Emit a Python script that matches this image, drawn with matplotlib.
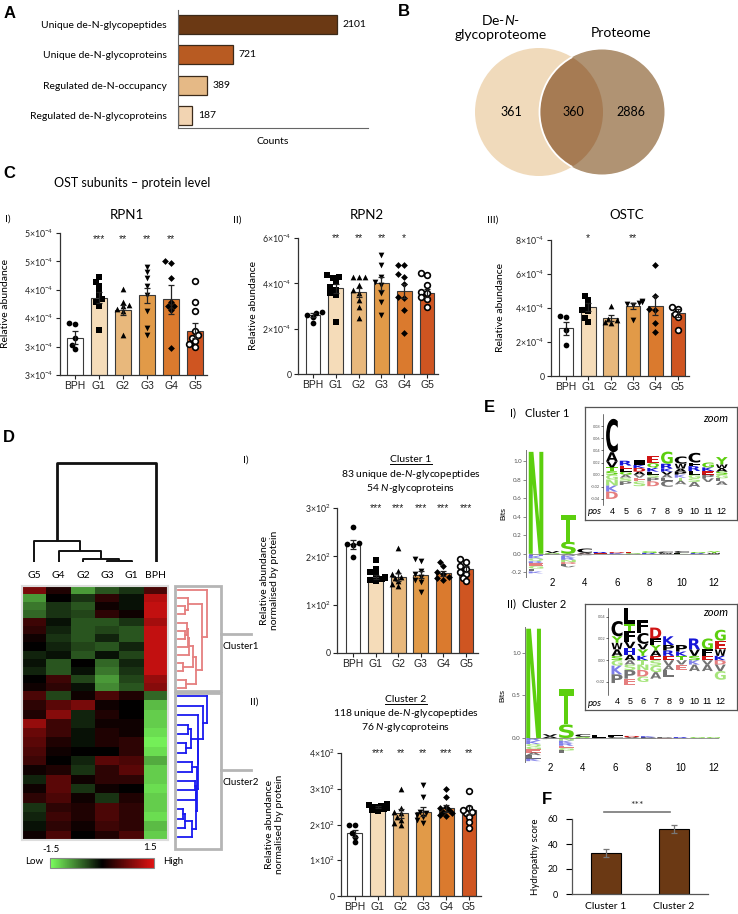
import numpy as np
import matplotlib
matplotlib.use('Agg')
import matplotlib.pyplot as plt
from matplotlib.patches import Circle, Rectangle, PathPatch
from matplotlib.textpath import TextPath
from matplotlib.font_manager import FontProperties
from matplotlib.colors import LinearSegmentedColormap, Normalize
from matplotlib.cm import ScalarMappable
from matplotlib.lines import Line2D
import matplotlib.transforms as mtransforms

plt.rcParams['font.family'] = ['Lato', 'DejaVu Sans']
plt.rcParams['mathtext.fontset'] = 'custom'
plt.rcParams['mathtext.rm'] = 'Lato'
plt.rcParams['mathtext.it'] = 'Lato:italic'
plt.rcParams['mathtext.bf'] = 'Lato:bold'

# ==========================================
# DATA
# ==========================================
# A - counts
count_labels = ['Unique de-N-glycopeptides', 'Unique de-N-glycoproteins',
                'Regulated de-N-occupancy', 'Regulated de-N-glycoproteins']
count_values = [2101, 721, 389, 187]
count_colors = ['#6B3914', '#B85B22', '#E5B986', '#F2D4B2']

# B - venn (only glyco, shared, only proteome)
venn_names = ['De-$\\it{N}$-\nglycoproteome', 'Proteome']
venn_counts = [361, 360, 2886]

# C / D - group bar charts
groups = ['BPH', 'G1', 'G2', 'G3', 'G4', 'G5']
group_colors = ['#FFFFFF', '#F5DCB9', '#E8B87C', '#E19A48', '#DA7A2E', '#CF5521']
group_markers = ['o', 's', '^', 'v', 'D', 'o']

# values x1e-4
rpn1_mean = [3.16, 3.86, 3.65, 3.90, 3.83, 3.28]
rpn1_sem = [0.12, 0.10, 0.09, 0.14, 0.26, 0.13]
rpn1_points = [[3.40, 3.41, 3.16, 2.96, 3.02],
               [4.22, 4.14, 4.07, 3.98, 3.90, 3.84, 3.79, 3.72, 3.29],
               [4.02, 3.79, 3.74, 3.71, 3.67, 3.62, 3.21],
               [4.41, 4.31, 4.21, 4.07, 3.90, 3.62, 3.33, 3.21],
               [4.50, 4.47, 4.21, 3.79, 3.72, 3.71, 3.64, 2.98],
               [4.16, 3.79, 3.62, 3.28, 3.21, 3.16, 3.10, 3.00, 3.05]]
rpn1_stars = ['', '***', '**', '**', '**', '']

rpn2_mean = [2.59, 3.78, 3.60, 4.00, 3.65, 3.56]
rpn2_sem = [0.08, 0.20, 0.20, 0.28, 0.30, 0.18]
rpn2_points = [[2.72, 2.68, 2.59, 2.50, 2.24],
               [4.35, 4.26, 4.22, 4.04, 3.82, 3.69, 3.56, 3.47, 2.29],
               [4.26, 4.26, 4.26, 3.91, 3.69, 3.56, 3.25, 2.95, 2.46],
               [5.23, 4.79, 4.26, 4.04, 3.91, 3.56, 3.16, 2.59],
               [4.83, 4.83, 4.40, 4.26, 3.96, 3.38, 3.34, 2.81, 1.80],
               [4.44, 4.35, 3.91, 3.60, 3.56, 3.38, 3.30, 2.95]]
rpn2_stars = ['', '**', '**', '**', '*', '']

ostc_mean = [2.82, 4.06, 3.41, 4.12, 4.14, 3.70]
ostc_sem = [0.38, 0.22, 0.15, 0.18, 0.55, 0.25]
ostc_points = [[3.47, 3.51, 2.69, 1.82],
               [4.70, 4.45, 4.12, 3.86, 3.82, 3.43, 3.18],
               [4.12, 3.37, 3.27, 3.18, 3.12],
               [4.39, 4.35, 4.31, 4.22, 4.16, 3.27],
               [6.51, 4.70, 3.96, 3.86, 3.12, 2.59],
               [4.06, 3.96, 3.67, 3.47, 2.69]]
ostc_stars = ['', '*', '', '**', '', '']

clu1_mean = [225, 158, 158, 162, 165, 173]
clu1_sem = [9, 4, 8, 7, 5, 6]
clu1_points = [[260, 227, 225, 223, 198],
               [192, 173, 167, 163, 158, 156, 154, 152, 150, 155],
               [217, 169, 163, 158, 156, 148, 142, 138],
               [194, 190, 169, 163, 158, 152, 146, 127],
               [188, 179, 167, 163, 158, 156, 152],
               [194, 188, 179, 173, 167, 163, 156, 148]]
clu1_stars = ['', '***', '***', '***', '***', '***']

clu2_mean = [176, 248, 231, 236, 245, 240]
clu2_sem = [10, 3, 12, 12, 9, 11]
clu2_points = [[200, 200, 176, 165, 151],
               [258, 255, 252, 250, 248, 246, 243, 240, 238],
               [300, 245, 236, 231, 222, 212, 205, 198],
               [311, 278, 236, 231, 226, 222, 212, 205],
               [300, 278, 250, 245, 241, 236, 231, 226, 224],
               [295, 245, 236, 231, 222, 208, 189, 240]]
clu2_stars = ['', '***', '**', '**', '***', '**']

# D - heatmap (z-scores), columns in clustered order
heat_cols = ['G5', 'G4', 'G2', 'G3', 'G1', 'BPH']
n_clu1, n_clu2 = 83, 118
heat_clu1 = [[0.8, 0.2, -0.9, -0.5, -0.3, 0.5],
             [-0.9, 0.0, -0.3, 0.3, -0.1, 1.2],
             [-0.7, -0.3, -0.5, 0.1, -0.1, 1.3],
             [-0.6, -0.3, -0.4, 0.3, 0.1, 1.3],
             [0.4, -0.1, -0.5, -0.5, -0.3, 1.1],
             [0.3, -0.2, -0.5, -0.4, -0.5, 1.3],
             [0.1, -0.3, -0.5, -0.2, -0.5, 1.3],
             [0.0, -0.2, -0.4, -0.5, -0.2, 1.3],
             [-0.2, -0.1, -0.5, -0.1, -0.4, 1.3],
             [-0.1, -0.5, 0.0, -0.6, -0.2, 1.3],
             [-0.2, -0.5, -0.1, -0.7, -0.3, 1.3],
             [0.0, 0.4, -0.4, -0.9, -0.4, 1.0],
             [0.1, 0.3, -0.1, -0.8, -0.5, 0.9]]
heat_clu2 = [[0.5, -0.4, 0.1, 0.5, 0.2, -0.6],
             [0.3, 0.6, 0.8, 0.1, 0.0, -1.1],
             [0.2, 0.9, -0.2, 0.2, 0.0, -1.2],
             [1.0, 0.4, -0.2, 0.1, 0.1, -1.2],
             [0.7, 0.4, -0.1, 0.2, 0.1, -1.3],
             [0.6, 0.2, -0.1, 0.2, 0.3, -1.4],
             [0.5, 0.1, 0.0, 0.0, 0.3, -1.3],
             [0.4, 0.0, -0.2, 0.6, 0.5, -1.0],
             [0.1, 0.2, -0.3, 0.3, 0.6, -1.2],
             [-0.2, 0.6, 0.1, 0.3, 0.3, -1.2],
             [0.1, 0.6, -0.3, 0.1, 0.0, -1.3],
             [0.3, 0.5, 0.1, -0.3, 0.2, -1.2],
             [-0.3, 0.3, 0.2, 0.5, 0.3, -1.2],
             [-0.2, 0.4, 0.2, 0.5, 0.3, -1.3],
             [-0.1, 0.3, 0.1, 0.4, 0.3, -1.1],
             [0.1, 0.5, 0.0, 0.2, 0.5, -1.2]]
# column dendrogram merges: (child a, child b, height); ints = earlier merge
col_merges = [('G3', 'G1', 2), ('G2', 0, 9), ('G4', 1, 34), ('G5', 2, 62), (3, 'BPH', 297)]

# E - sequence logos (bits), stacks per position
logo1_up = [[('N', 1.10)], [('G', 0.01), ('V', 0.02)], [('S', 0.13), ('T', 0.29)],
            [('A', 0.012), ('C', 0.045)], [('E', 0.008), ('R', 0.012)], [('K', 0.008), ('D', 0.01)],
            [('G', 0.008), ('E', 0.016)], [('R', 0.01), ('G', 0.018)], [('W', 0.01), ('C', 0.014)],
            [('F', 0.01), ('C', 0.02)], [('R', 0.008), ('G', 0.012)], [('W', 0.01), ('Y', 0.018)]]
logo1_down = [[('H', 0.02), ('K', 0.03), ('Q', 0.03), ('R', 0.02), ('E', 0.03), ('G', 0.03), ('L', 0.03), ('K', 0.02)],
              [('P', 0.012)],
              [('A', 0.02), ('K', 0.025), ('R', 0.02), ('N', 0.025), ('D', 0.02), ('L', 0.02), ('V', 0.015)],
              [('D', 0.01), ('P', 0.008)], [('S', 0.006)], [('A', 0.006)], [('P', 0.008)],
              [('L', 0.006)], [('A', 0.006)], [('S', 0.008)], [('V', 0.006)], [('A', 0.006)]]
logo2_up = [[('N', 1.28)], [('A', 0.02), ('V', 0.025)], [('S', 0.16), ('T', 0.41)],
            [('S', 0.015), ('C', 0.03)], [('F', 0.012), ('L', 0.025)], [('C', 0.012), ('F', 0.02)],
            [('V', 0.01), ('D', 0.015)], [('P', 0.008), ('K', 0.012)], [('P', 0.008)],
            [('R', 0.01)], [('G', 0.01)], [('G', 0.01)]]
logo2_down = [[('R', 0.03), ('K', 0.04), ('Q', 0.03), ('G', 0.03), ('E', 0.04), ('A', 0.03), ('L', 0.04), ('K', 0.03)],
              [('P', 0.012)],
              [('N', 0.03), ('K', 0.03), ('R', 0.03), ('E', 0.025), ('G', 0.03), ('L', 0.03)],
              [('P', 0.01)], [('A', 0.008)], [('G', 0.006)], [('S', 0.006)], [('L', 0.006)],
              [('E', 0.005)], [('A', 0.006)], [('A', 0.006)], [('V', 0.006)]]
# zoomed positions 4-12
zoom1_up = [[('S', 0.006), ('T', 0.006), ('V', 0.01), ('A', 0.015), ('C', 0.055)],
            [('G', 0.005), ('L', 0.005), ('E', 0.005), ('R', 0.008)],
            [('A', 0.005), ('D', 0.006), ('K', 0.005), ('I', 0.008)],
            [('L', 0.005), ('K', 0.006), ('Q', 0.008), ('E', 0.012)],
            [('V', 0.005), ('K', 0.005), ('R', 0.008), ('G', 0.02)],
            [('P', 0.005), ('A', 0.005), ('W', 0.008), ('C', 0.012)],
            [('L', 0.006), ('R', 0.008), ('F', 0.006), ('C', 0.016)],
            [('E', 0.006), ('K', 0.006), ('G', 0.008)],
            [('S', 0.005), ('A', 0.006), ('W', 0.006), ('Y', 0.012)]]
zoom1_down = [[('G', 0.008), ('N', 0.01), ('K', 0.01), ('D', 0.012)],
              [('A', 0.005), ('S', 0.006), ('P', 0.006)],
              [('V', 0.005), ('E', 0.006), ('S', 0.008)],
              [('S', 0.005), ('P', 0.006), ('D', 0.008)],
              [('A', 0.005), ('L', 0.005), ('C', 0.01)],
              [('K', 0.005), ('T', 0.005), ('A', 0.006)],
              [('G', 0.006), ('S', 0.006), ('A', 0.008)],
              [('P', 0.006), ('V', 0.006)],
              [('G', 0.006), ('L', 0.005), ('A', 0.006)]]
zoom2_up = [[('S', 0.004), ('A', 0.006), ('W', 0.006), ('Y', 0.006), ('C', 0.014)],
            [('A', 0.005), ('H', 0.006), ('V', 0.006), ('F', 0.01), ('T', 0.006), ('L', 0.018)],
            [('K', 0.004), ('Y', 0.006), ('V', 0.005), ('C', 0.01), ('F', 0.012)],
            [('E', 0.004), ('A', 0.005), ('Y', 0.005), ('F', 0.006), ('D', 0.01)],
            [('E', 0.004), ('R', 0.005), ('P', 0.005), ('K', 0.008)],
            [('T', 0.004), ('K', 0.004), ('P', 0.006)],
            [('S', 0.004), ('V', 0.006), ('R', 0.01)],
            [('E', 0.004), ('F', 0.006), ('G', 0.01)],
            [('K', 0.004), ('W', 0.006), ('E', 0.008), ('G', 0.01)]]
zoom2_down = [[('G', 0.005), ('K', 0.008), ('P', 0.008)],
              [('A', 0.004), ('S', 0.005), ('P', 0.008), ('E', 0.006)],
              [('T', 0.004), ('N', 0.005), ('D', 0.006), ('G', 0.005)],
              [('S', 0.005), ('G', 0.006), ('A', 0.006)],
              [('V', 0.005), ('A', 0.004), ('L', 0.006)],
              [('V', 0.004), ('E', 0.005)],
              [('K', 0.004), ('A', 0.006)],
              [('V', 0.004), ('A', 0.006)],
              [('D', 0.004), ('V', 0.006), ('G', 0.008)]]

# F - hydropathy
hyd_labels = ['Cluster 1', 'Cluster 2']
hyd_mean = [33, 52]
hyd_err = [3, 3.5]

# ==========================================
# HELPERS
# ==========================================
W, H = 738, 914
fig = plt.figure(figsize=(W / 100, H / 100), dpi=100)


def px_axes(x0, y0, x1, y1):
    return fig.add_axes([x0 / W, 1 - y1 / H, (x1 - x0) / W, (y1 - y0) / H])


def fig_text(x, y, s, **kw):
    kw.setdefault('va', 'center')
    return fig.text(x / W, 1 - y / H, s, **kw)


def panel_letter(x, y, s):
    fig_text(x, y, s, ha='center', fontsize=12, weight='bold', family='Liberation Sans')


def clean(ax, color='#333333', lw=0.9):
    for s in ['top', 'right']:
        ax.spines[s].set_visible(False)
    for s in ['left', 'bottom']:
        ax.spines[s].set_color(color)
        ax.spines[s].set_linewidth(lw)


def swarm(vals, sx, sy, d=5.5):
    placed = []
    offs = np.zeros(len(vals))
    for i in np.argsort(vals):
        for k in [0, -1, 1, -2, 2, -3, 3]:
            dx = k * d * 0.55 / sx
            if all(((dx - px) * sx) ** 2 + ((vals[i] - py) * sy) ** 2 >= (0.8 * d) ** 2 for px, py in placed):
                break
        offs[i] = dx
        placed.append((dx, vals[i]))
    return offs


def group_panel(box, means, sems, points, stars, star_y, ylim, yticks, yticklabels,
                xlim, ylabel, ylabel_x):
    x0, y0, x1, y1 = box
    ax = px_axes(*box)
    ax.set_xlim(*xlim)
    ax.set_ylim(*ylim)
    sx = (x1 - x0) / (xlim[1] - xlim[0])
    sy = (y1 - y0) / (ylim[1] - ylim[0])
    for i in range(len(groups)):
        ax.bar(i, means[i], width=0.65, color=group_colors[i], edgecolor='#3a3a3a', linewidth=0.8, zorder=1)
        offs = swarm(np.array(points[i], float), sx, sy)
        m = group_markers[i]
        if i == 5:
            ax.scatter(i + offs, points[i], s=17, marker=m, facecolor='white', edgecolor='black',
                       linewidth=1.2, zorder=2, clip_on=False)
        else:
            ax.scatter(i + offs, points[i], s=12 if m == 'D' else 17, marker=m, color='black',
                       linewidth=0, zorder=2, clip_on=False)
        ax.errorbar(i, means[i], yerr=sems[i], color='#222222', capsize=2.5, elinewidth=0.9,
                    capthick=0.9, zorder=3)
        if stars[i]:
            ax.text(i, star_y, stars[i], ha='center', va='center', fontsize=7.5,
                    family='Liberation Sans', color='#222222')
    ax.set_xticks(range(len(groups)))
    ax.set_xticklabels(groups, fontsize=7.5, family='Liberation Sans')
    ax.set_yticks(yticks)
    ax.set_yticklabels(yticklabels, fontsize=6.3)
    ax.tick_params(length=3, width=0.8, pad=1.5, colors='#222222')
    clean(ax)
    ax.set_ylabel(ylabel, fontsize=7.5)
    ax.yaxis.set_label_coords((ylabel_x - x0) / (x1 - x0), 0.5)
    return ax


AA_COLORS = {}
for c in 'NSTGYQ':
    AA_COLORS[c] = '#5CCF0E'
for c in 'CAVLIPWFM':
    AA_COLORS[c] = '#000000'
for c in 'RKH':
    AA_COLORS[c] = '#1515D8'
for c in 'DE':
    AA_COLORS[c] = '#D01414'
LOGO_FONT = FontProperties(family='DejaVu Sans', weight='bold')


def draw_letter(ax, ch, x, y, w, h, alpha=1.0):
    tp = TextPath((0, 0), ch, size=1, prop=LOGO_FONT)
    bb = tp.get_extents()
    tr = mtransforms.Affine2D().translate(-bb.x0, -bb.y0).scale(w / bb.width, h / bb.height) \
        .translate(x - w / 2, y)
    ax.add_patch(PathPatch(tr.transform_path(tp), fc=AA_COLORS[ch], ec='none', alpha=alpha))


def draw_logo(ax, up, down, start, w=0.9, neg_alpha=0.55):
    for k, (ups, downs) in enumerate(zip(up, down)):
        x = start + k
        y = 0.0
        for ch, h in ups:
            draw_letter(ax, ch, x, y, w, h)
            y += h
        y = 0.0
        for ch, h in downs:
            y -= h
            draw_letter(ax, ch, x, y, w, h, alpha=neg_alpha)


def chain_tree(rows, centers):
    nodes = [(centers[i], 0.0, np.array(rows[i], float), 1) for i in range(len(rows))]
    segs = []
    while len(nodes) > 1:
        d = [np.linalg.norm(nodes[i][2] - nodes[i + 1][2]) for i in range(len(nodes) - 1)]
        j = int(np.argmin(d))
        a, b = nodes[j], nodes[j + 1]
        h = max(d[j], a[1], b[1]) + 0.02
        segs += [((a[1], h), (a[0], a[0])), ((b[1], h), (b[0], b[0])), ((h, h), (a[0], b[0]))]
        n = a[3] + b[3]
        nodes[j:j + 2] = [((a[0] + b[0]) / 2, h, (a[2] * a[3] + b[2] * b[3]) / n, n)]
    return segs, nodes[0][1]


# ==========================================
# A
# ==========================================
panel_letter(10, 13, 'A')
axA = px_axes(178, 10, 368, 128)
yA = np.arange(len(count_values))
axA.barh(yA, count_values, height=0.62, color=count_colors, edgecolor='#3b2a1a', linewidth=0.9)
for y, v in zip(yA, count_values):
    axA.annotate(str(v), (v, y), xytext=(4, 0), textcoords='offset points', va='center', fontsize=7.5)
axA.set_xlim(0, 2510)
axA.set_ylim(3.4, -0.47)
axA.set_yticks(yA)
axA.set_yticklabels(count_labels, fontsize=7.5)
axA.tick_params(axis='y', length=0, pad=8)
axA.set_xticks([])
clean(axA, '#666666', 0.8)
fig_text(273, 141, 'Counts', ha='center', fontsize=7.5)

# ==========================================
# B
# ==========================================
panel_letter(404, 12, 'B')
axB = px_axes(440, 0, 700, 185)
axB.set_xlim(440, 700)
axB.set_ylim(185, 0)
axB.axis('off')
venn_cy, venn_r = 112, 63.5
venn_cx = [539, 602]
left = Circle((venn_cx[0], venn_cy), venn_r + 0.5, fc='#F0DABB', ec='none')
right = Circle((venn_cx[1], venn_cy), venn_r - 1, fc='#B09373', ec='none')
axB.add_patch(left)
axB.add_patch(right)
inter = Circle((venn_cx[1], venn_cy), venn_r - 1, fc='#A67B53', ec='none')
axB.add_patch(inter)
inter.set_clip_path(left)
edge = Circle((venn_cx[1], venn_cy), venn_r - 1, fill=False, ec='white', lw=1.3)
axB.add_patch(edge)
edge.set_clip_path(left)
axB.text(501, 27, venn_names[0], ha='center', va='center', fontsize=10, linespacing=1.25)
axB.text(621, 33, venn_names[1], ha='center', va='center', fontsize=10)
for xc, v in zip([511, 573, 631], venn_counts):
    axB.text(xc, venn_cy, str(v), ha='center', va='center', fontsize=9)

# ==========================================
# C
# ==========================================
panel_letter(9, 174, 'C')
fig_text(132, 183, 'OST subunits \u2013 protein level', ha='center', fontsize=9)
for x, y, s in [(5, 219, 'I)'), (233, 220, 'II)'), (487, 220, 'III)')]:
    fig_text(x, y, s, fontsize=7.5)
for x, s in [(127, 'RPN1'), (367, 'RPN2'), (627, 'OSTC')]:
    fig_text(x, 215, s, ha='center', fontsize=9.5)

e4 = '\u00d710$^{-4}$'
group_panel((60, 233, 207, 375), rpn1_mean, rpn1_sem, rpn1_points, rpn1_stars, 4.9,
            (2.5, 5.0), [2.5, 3.0, 3.5, 4.0, 4.5, 5.0],
            ['3' + e4, '3' + e4, '4' + e4, '4' + e4, '5' + e4, '5' + e4],
            (-0.625, 5.5), 'Relative abundance', 10)
group_panel((298, 238, 438, 374), rpn2_mean, rpn2_sem, rpn2_points, rpn2_stars, 6.0,
            (0, 6), [0, 2, 4, 6], ['0', '2' + e4, '4' + e4, '6' + e4],
            (-0.66, 5.48), 'Relative abundance', 258)
group_panel((551, 240, 689, 376), ostc_mean, ostc_sem, ostc_points, ostc_stars, 8.1,
            (0, 8), [0, 2, 4, 6, 8], ['0', '2' + e4, '4' + e4, '6' + e4, '8' + e4],
            (-0.67, 5.5), 'Relative abundance', 505)

# ==========================================
# D - heatmap + dendrograms
# ==========================================
panel_letter(9, 437, 'D')
heat = np.array(heat_clu1 + heat_clu2)
y_edges = np.concatenate([np.linspace(0, n_clu1, len(heat_clu1) + 1),
                          np.linspace(n_clu1, n_clu1 + n_clu2, len(heat_clu2) + 1)[1:]])
cmap = LinearSegmentedColormap.from_list('gkr', ['#7CFF5E', '#000000', '#E01212'])
axH = px_axes(22, 586, 168, 840)
axH.pcolormesh(np.arange(len(heat_cols) + 1), y_edges, heat, cmap=cmap, vmin=-1.5, vmax=1.5)
axH.set_xlim(0, len(heat_cols))
axH.set_ylim(n_clu1 + n_clu2, 0)
axH.set_yticks([])
axH.xaxis.tick_top()
axH.set_xticks(np.arange(len(heat_cols)) + 0.5)
axH.set_xticklabels(heat_cols, fontsize=7.5)
axH.tick_params(axis='x', length=0, pad=4)
for s in axH.spines.values():
    s.set_color('#DDDDDD')
    s.set_linewidth(1.5)

# column dendrogram
axCD = px_axes(22, 461, 168, 562)
axCD.set_xlim(0, len(heat_cols))
axCD.set_ylim(0, 303)
axCD.axis('off')
node_pos = {c: (i + 0.5, 0.0) for i, c in enumerate(heat_cols)}
for k, (a, b, h) in enumerate(col_merges):
    xa, ha = node_pos[a]
    xb, hb = node_pos[b]
    lw = 2.0 if k == len(col_merges) - 1 else 1.4
    axCD.plot([xa, xa, xb, xb], [ha, h, h, hb], color='#111111', lw=lw, solid_capstyle='butt')
    node_pos[k] = ((xa + xb) / 2, h)

# row dendrograms
axRD = px_axes(175, 586, 221, 842)
axRD.set_xlim(-0.1, 1.48)
axRD.set_ylim(n_clu1 + n_clu2, 0)
axRD.axis('off')
centers = (y_edges[:-1] + y_edges[1:]) / 2
n1 = len(heat_clu1)
for rows, cen, col in [(heat_clu1, centers[:n1], '#E57F7F'), (heat_clu2, centers[n1:], '#1A1AF0')]:
    segs, top = chain_tree(rows, cen)
    for (xs, ys) in segs:
        axRD.plot(np.array(xs) / top, ys, color=col, lw=1.3)
box_kw = dict(fill=False, ec='#B5B5B5', lw=2, clip_on=False)
axRD.add_patch(Rectangle((-0.1, 0), 1.58, n_clu1 - 0.5, **box_kw))
axRD.add_patch(Rectangle((-0.1, n_clu1 + 0.8), 1.58, n_clu2 + 4.5, **box_kw))
for yy, lab in [(n_clu1 * 0.45, 'Cluster1'), (n_clu1 + n_clu2 * 0.52, 'Cluster2')]:
    axRD.plot([1.48, 2.5], [yy, yy], color='#B5B5B5', lw=2, clip_on=False)
    axRD.text(1.52, yy + 10, lab, fontsize=7, va='center', ha='left')

# colour key
cax = px_axes(50, 858, 154, 868)
cb = fig.colorbar(ScalarMappable(Normalize(-1.5, 1.5), cmap), cax=cax, orientation='horizontal')
cax.set_xticks([])
cb.outline.set_edgecolor('#888888')
cb.outline.set_linewidth(0.8)
fig_text(51, 849, '-1.5', ha='center', fontsize=7)
fig_text(150, 848, '1.5', ha='center', fontsize=7)
fig_text(34, 861, 'Low', ha='center', fontsize=7)
fig_text(173, 861, 'High', ha='center', fontsize=7)

# cluster bar charts
fig_text(243, 460, 'I)', fontsize=7.5)
fig_text(250, 702, 'II)', fontsize=7.5)
t1 = fig_text(411, 460, 'Cluster 1', ha='center', fontsize=7.5)
fig_text(411, 474, '83 unique de-$\\it{N}$-glycopeptides', ha='center', fontsize=7.5)
fig_text(411, 488, '54 $\\it{N}$-glycoproteins', ha='center', fontsize=7.5)
t2 = fig_text(406, 700, 'Cluster 2', ha='center', fontsize=7.5)
fig_text(406, 714, '118 unique de-$\\it{N}$-glycopeptides', ha='center', fontsize=7.5)
fig_text(406, 728, '76 $\\it{N}$-glycoproteins', ha='center', fontsize=7.5)

e2 = '\u00d710$^{2}$'
group_panel((337, 508, 478, 653), clu1_mean, clu1_sem, clu1_points, clu1_stars, 300,
            (0, 300), [0, 100, 200, 300], ['0', '1' + e2, '2' + e2, '3' + e2],
            (-0.71, 5.53), 'Relative abundance\nnormalised by protein', 279)
group_panel((341, 753, 481, 896), clu2_mean, clu2_sem, clu2_points, clu2_stars, 400,
            (0, 400), [0, 100, 200, 300, 400], ['0', '1' + e2, '2' + e2, '3' + e2, '4' + e2],
            (-0.61, 5.53), 'Relative abundance\nnormalised by protein', 284)

# ==========================================
# E - logos
# ==========================================
panel_letter(489, 408, 'E')
fig_text(510, 413, 'I)', fontsize=8)
fig_text(525, 413, 'Cluster 1', fontsize=8)
fig_text(507, 604, 'II)', fontsize=8)
fig_text(522, 604, 'Cluster 2', fontsize=8)


def main_logo(box, up, down, xlim, ylim, yticks, bits_xy):
    ax = px_axes(*box)
    ax.set_xlim(*xlim)
    ax.set_ylim(*ylim)
    ax.axhline(0, xmin=0.02, xmax=0.99, color='#888888', lw=0.6)
    draw_logo(ax, up, down, 1)
    ax.set_xticks([2, 4, 6, 8, 10, 12])
    ax.set_xticklabels(['2', '4', '6', '8', '10', '12'], fontsize=7, family='Liberation Sans')
    ax.tick_params(axis='x', length=0, pad=1)
    ax.set_yticks(yticks)
    ax.set_yticklabels(['%.1f' % v for v in yticks], fontsize=4.5, color='#555555')
    ax.tick_params(axis='y', length=2, width=0.6, pad=1, color='#777777')
    for s in ['top', 'right', 'bottom']:
        ax.spines[s].set_visible(False)
    ax.spines['left'].set_color('#777777')
    ax.spines['left'].set_linewidth(0.7)
    fig_text(bits_xy[0], bits_xy[1], 'Bits', ha='center', rotation=90, fontsize=5.5,
             family='Liberation Sans')


main_logo((526, 450, 720, 577), logo1_up, logo1_down, (0.38, 12.36), (-0.25, 1.12),
          [-0.2, 0.0, 0.2, 0.4, 0.6, 0.8, 1.0], (504, 513))
main_logo((525, 627, 720, 762), logo2_up, logo2_down, (0.476, 12.37), (-0.28, 1.3),
          [0.0, 0.5, 1.0], (503, 695))


def zoom_logo(frame, box, up, down, xlim, ylim, yticks, zoom_y, pos_y):
    fr = px_axes(*frame)
    fr.set_xticks([])
    fr.set_yticks([])
    for s in fr.spines.values():
        s.set_color('#555555')
        s.set_linewidth(0.9)
    ax = px_axes(*box)
    ax.patch.set_alpha(0)
    ax.set_xlim(*xlim)
    ax.set_ylim(*ylim)
    draw_logo(ax, up, down, 4, w=0.85)
    ax.set_xticks(range(4, 13))
    ax.set_xticklabels([str(p) for p in range(4, 13)], fontsize=6.5, family='Liberation Sans')
    ax.tick_params(axis='x', length=0, pad=1.5)
    ax.set_yticks(yticks)
    ax.set_yticklabels(['%.2f' % v for v in yticks], fontsize=2.8, color='#555555')
    ax.tick_params(axis='y', length=1.5, width=0.4, pad=0.5)
    for s in ['top', 'right', 'bottom']:
        ax.spines[s].set_visible(False)
    ax.spines['left'].set_linewidth(0.4)
    fig_text(728, zoom_y, 'zoom', ha='right', fontsize=8, style='italic')
    fig_text(588, pos_y, 'pos', ha='left', fontsize=7, style='italic')


zoom_logo((585, 407, 737, 520), (603, 414, 728, 505), zoom1_up, zoom1_down,
          (3.35, 12.45), (-0.05, 0.1), [-0.04, -0.02, 0.0, 0.02, 0.04, 0.06, 0.08], 418, 511)
zoom_logo((585, 604, 737, 710), (608, 608, 728, 695), zoom2_up, zoom2_down,
          (3.3, 12.6), (-0.032, 0.048), [-0.02, 0.0, 0.02, 0.04], 613, 703)

# ==========================================
# F - hydropathy
# ==========================================
panel_letter(547, 800, 'F')
axF = px_axes(572, 819, 708, 894)
axF.bar(range(2), hyd_mean, width=0.43, color='#6B3914', edgecolor='black', linewidth=0.8)
axF.errorbar(range(2), hyd_mean, yerr=hyd_err, fmt='none', ecolor='#777777', capsize=2.5,
             elinewidth=0.9, capthick=0.9)
axF.set_xlim(-0.5, 1.5)
axF.set_ylim(0, 60)
axF.set_yticks([0, 20, 40, 60])
axF.set_yticklabels(['0', '20', '40', '60'], fontsize=6.5)
axF.set_xticks(range(2))
axF.set_xticklabels(hyd_labels, fontsize=7.5)
axF.tick_params(axis='x', length=0, pad=6)
axF.tick_params(axis='y', length=4, width=0.8, pad=6)
clean(axF, '#555555', 0.9)
axF.set_ylabel('Hydropathy score', fontsize=7)
axF.yaxis.set_label_coords((540 - 572) / 136, 0.5)
axF.plot([-0.03, 0.94], [65.6, 65.6], color='#777777', lw=1.2, clip_on=False)
axF.text(0.455, 70.4, '***', ha='center', va='center', fontsize=7.5, color='#333333')

# underline cluster titles
fig.canvas.draw()
for t in [t1, t2]:
    bb = t.get_window_extent()
    fig.add_artist(Line2D([bb.x0 / W, bb.x1 / W], [(bb.y0 + 0.5) / H] * 2, color='black', lw=0.7))

fig.savefig('out.png', dpi=100)
